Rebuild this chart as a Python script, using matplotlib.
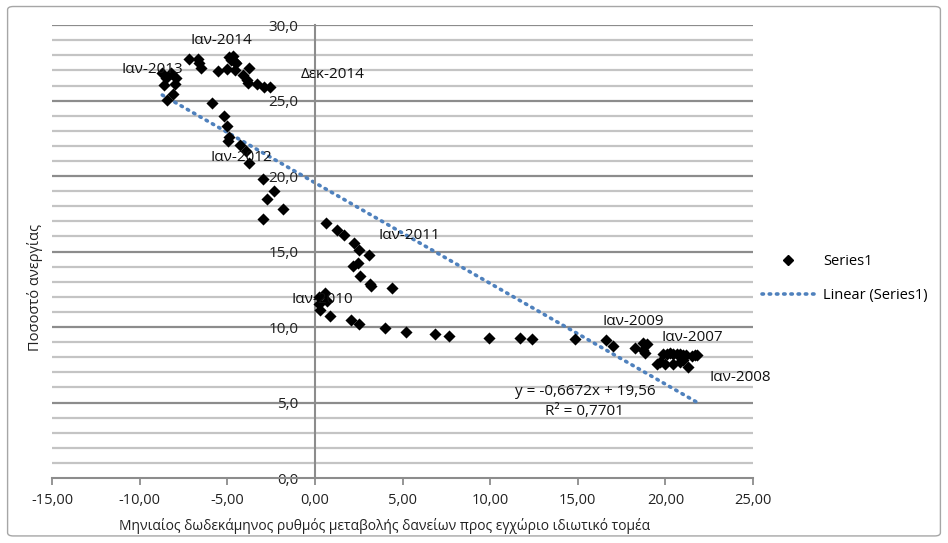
import numpy as np
import matplotlib.pyplot as plt
from matplotlib.ticker import FuncFormatter, MultipleLocator
from matplotlib.lines import Line2D
from matplotlib.patches import FancyBboxPatch

plt.rcParams['font.family'] = ['Open Sans', 'DejaVu Sans']

# credit growth (x) vs unemployment rate (y)
x_vals = [-7.21, -6.69, -6.60, -6.50,
          -8.71, -8.23, -8.52, -7.93, -8.63, -8.00, -8.08, -8.42,
          -5.55, -5.04,
          -4.89, -4.66, -4.81, -4.58, -4.52, -4.55, -3.77, -4.09, -3.90, -3.80, -3.33, -2.89, -2.57,
          -5.86, -5.17, -5.02, -4.92, -4.98, -4.26, -3.94, -3.75,
          -2.95, -2.34, -2.72, -1.81, -2.98,
          0.63, 1.24, 1.65, 2.22, 2.53, 3.10, 2.47, 2.19, 2.57, 3.14, 3.19, 4.39,
          0.57, 0.25, 0.67, 0.21, 0.27,
          0.86, 2.05, 2.51, 3.99, 5.19, 6.86, 7.64, 9.91, 11.71, 12.40, 14.85,
          16.58, 17.02, 18.25, 18.73, 18.92, 18.73, 18.83,
          19.49, 19.68, 19.97, 20.44, 20.82, 21.01, 21.30,
          19.87, 20.06, 20.25, 20.44, 20.63, 20.82, 21.01, 21.20, 21.49, 21.68, 21.81]
y_vals = [27.79, 27.77, 27.46, 27.17,
          26.84, 26.84, 26.47, 26.47, 26.02, 26.09, 25.47, 25.03,
          26.97, 27.08,
          27.90, 27.94, 27.72, 27.57, 27.46, 27.02, 27.17, 26.69, 26.36, 26.14, 26.09, 25.87, 25.87,
          24.81, 23.99, 23.31, 22.60, 22.33, 22.03, 21.65, 20.90,
          19.79, 19.00, 18.51, 17.79, 17.16,
          16.90, 16.46, 16.13, 15.57, 15.09, 14.80, 14.27, 14.03, 13.37, 12.88, 12.70, 12.59,
          12.26, 12.02, 11.71, 11.56, 11.13,
          10.72, 10.45, 10.17, 9.97, 9.70, 9.57, 9.39, 9.28, 9.26, 9.19, 9.19,
          9.13, 8.73, 8.64, 8.95, 8.90, 8.46, 8.28,
          7.58, 7.69, 7.58, 7.58, 7.69, 7.80, 7.36,
          8.24, 8.24, 8.28, 8.20, 8.24, 8.20, 8.16, 8.13, 8.09, 8.13, 8.16]

# trendline shown in the chart
slope = -0.6672
intercept = 19.56
r2 = 0.7701

# point labels
lbl_text = ["Ιαν-2014", "Ιαν-2013", "Δεκ-2014", "Ιαν-2012", "Ιαν-2011",
            "Ιαν-2010", "Ιαν-2009", "Ιαν-2007", "Ιαν-2008"]
lbl_x = [-5.31, -9.30, 1.03, -4.22, 5.36, 0.40, 18.14, 21.56, 24.24]
lbl_y = [29.0, 27.08, 26.75, 21.24, 16.07, 11.83, 10.37, 9.31, 6.66]

fig = plt.figure(figsize=(9.48, 5.43), dpi=100)
ax = fig.add_axes([0.0549, 0.1197, 0.7395, 0.834])

# chart border
fig.patches.append(FancyBboxPatch((0.008, 0.013), 0.984, 0.975, boxstyle="round,pad=0,rounding_size=0.006",
                                  transform=fig.transFigure, fill=False, edgecolor="#a6a6a6", lw=1.0))

ax.set_xlim(-15, 25)
ax.set_ylim(0, 30)

# gridlines
ax.yaxis.set_major_locator(MultipleLocator(5))
ax.yaxis.set_minor_locator(MultipleLocator(1))
ax.xaxis.set_major_locator(MultipleLocator(5))
for v in np.arange(1, 31, 1):
    major = (v % 5 == 0)
    ax.axhline(v, color="#8c8c8c" if major else "#c4c4c4", lw=1.6, zorder=1)

xs = np.array([min(x_vals), max(x_vals)])
ax.plot(xs, slope * xs + intercept, color="#4f81bd", lw=2.6, linestyle=(0, (0.4, 1.6)),
        dash_capstyle="round", zorder=2)
ax.scatter(x_vals, y_vals, marker="D", s=38, color="black", zorder=3, linewidths=0)

for t, lx, ly in zip(lbl_text, lbl_x, lbl_y):
    ax.text(lx, ly, t, ha="center", va="center", fontsize=11, color="#111111", zorder=4)

ax.text(15.40, 5.73, "y = -0,6672x + 19,56", ha="center", va="center", fontsize=11, color="#111111", zorder=4)
ax.text(15.40, 4.41, "R² = 0,7701", ha="center", va="center", fontsize=11, color="#111111", zorder=4)

# axes styling
for s in ["top", "right"]:
    ax.spines[s].set_visible(False)
ax.spines["left"].set_position(("data", 0))
ax.spines["left"].set_color("#8c8c8c")
ax.spines["left"].set_linewidth(1.5)
ax.spines["bottom"].set_color("#8c8c8c")
ax.spines["bottom"].set_linewidth(1.5)
ax.tick_params(axis="y", which="both", length=0, pad=12, labelsize=11, labelcolor="#222222")
ax.tick_params(axis="x", which="major", length=5, width=1.3, color="#8c8c8c", direction="out",
               labelsize=10.5, labelcolor="#222222", pad=6)
ax.yaxis.set_major_formatter(FuncFormatter(lambda v, p: f"{v:.1f}".replace(".", ",")))
ax.xaxis.set_major_formatter(FuncFormatter(lambda v, p: f"{v:.2f}".replace(".", ",")))

fig.text(0.037, 0.47, "Ποσοστό ανεργίας", rotation=90, ha="center", va="center", fontsize=10.5, color="#222222")
fig.text(0.406, 0.031, "Μηνιαίος δωδεκάμηνος ρυθμός μεταβολής δανείων προς εγχώριο ιδιωτικό τομέα",
         ha="center", va="center", fontsize=10, color="#222222")

handles = [Line2D([], [], marker="D", color="black", linestyle="none", markersize=5.5),
           Line2D([], [], color="#4f81bd", lw=2.6, linestyle=(0, (0.4, 1.6)), dash_capstyle="round")]
fig.legend(handles, ["Series1", "Linear (Series1)"], loc="center left", bbox_to_anchor=(0.79, 0.487),
           frameon=False, fontsize=10.5, handlelength=3.6, labelspacing=1.3, handletextpad=0.6)

fig.savefig("out.png", dpi=100)
